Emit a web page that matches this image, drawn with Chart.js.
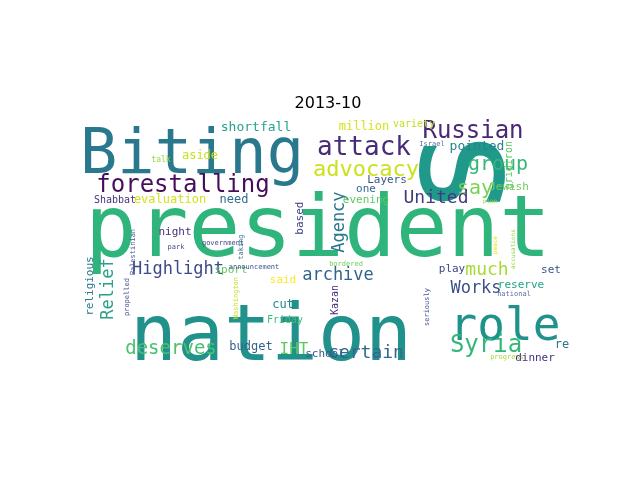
<!DOCTYPE html>
<html>
<head>
<meta charset="utf-8">
<script src="https://cdn.jsdelivr.net/npm/chart.js@4"></script>
<style>body{margin:0;background:#fff}</style>
</head>
<body>
<canvas id="c" width="640" height="480"></canvas>
<script>
// word cloud: word, centre position in cloud units, font size, colour, vertical flag
const words = ['president','nation','Biting','s','role','forestalling','attack','Russian','advocacy','Syria',
  'group','say','United','Highlight','archive','Works','much','deserves','certain','Relief','Agency','IHT',
  'shortfall','pointed','million','variety','gridiron','Jewish','aside','talk','Israel','Shabbat','evaluation',
  'need','Layers','one','evening','plan','based','night','park','government','Palestinian','taking','sport',
  'announcement','said','play','set','bordered','peace','accusations','religious','propelled','Washington',
  'cut','Friday','Kazan','seriously','reserve','national','budget','school','re','progress','dinner'];
const xs = [318,271,192,464,505,183,364,473,366,486,498,475,436,178,338,476,487,171,366,109,340,294,
  256,477,364,414,509,509,200,161,432,115,170,234,387,366,366,490,300,175,176,223,133,241,231,
  254,283,452,551,346,495,513,90,127,236,283,285,335,427,521,514,251,325,562,507,535];
const ys = [234,340,157,172,328,186,148,132,170,346,165,189,198,270,276,289,270,349,353,289,222,350,
  127,146,127,124,165,187,156,160,144,200,200,200,180,189,200,201,218,232,247,243,252,247,270,
  267,280,269,270,264,245,249,286,297,298,305,320,300,307,285,294,347,354,345,357,358];
const sizes = [86,78,62,150,46,24,26,24,22,24,20,20,18,17,17,17,18,19,18,17,17,16,
  13,13,12,10,10,11,12,8,7,10,12,12,11,11,11,6,11,11,7,7,7,7,11,
  7,11,11,11,7,6,6,11,7,7,12,10,10,7,11,7,12,11,12,7,11];
const colors = ['#2fb47c','#21918c','#2a788e','#1f9a8a','#20928c','#450d5a','#472c7a','#482878','#cde11d','#35b779',
  '#35b779','#7ad151','#443983','#3e4a89','#33638d','#3b528b','#a5db36','#4ac16d','#31688e','#2ba08a','#2a788e','#5ec962',
  '#25a18e','#26828e','#d8e219','#c2df23','#5ec962','#6ece58','#c8e020','#93d741','#5c6fa0','#46327e','#d2e21b',
  '#2e6e8e','#3b528b','#31688e','#5ec962','#a0da39','#404387','#46307e','#3e4989','#3f4788','#3b528b','#2f6c8e','#5ec962',
  '#3a548c','#fde725','#3f4788','#3b528b','#6ccd5a','#e2e418','#8fd744','#2a788e','#3f4a8a','#c2df23',
  '#25838e','#40bd72','#472d7b','#3b528b','#20a386','#5c6fa0','#33638d','#38598c','#2a788e','#9fda3a','#46307e'];
const vertical = ['s','Relief','Agency','gridiron','based','Palestinian','taking','peace','accusations',
  'religious','propelled','Washington','Kazan','seriously'];

const wordText = {
  id: 'wordText',
  afterDatasetsDraw(chart) {
    const ctx = chart.ctx;
    const meta = chart.getDatasetMeta(0);
    ctx.save();
    ctx.textAlign = 'center';
    ctx.textBaseline = 'middle';
    meta.data.forEach((pt, i) => {
      ctx.save();
      ctx.translate(pt.x, pt.y);
      if (vertical.includes(words[i])) ctx.rotate(-Math.PI / 2);
      ctx.font = sizes[i] + 'px "DejaVu Sans Mono"';
      ctx.fillStyle = colors[i];
      ctx.fillText(words[i], 0, 0);
      ctx.restore();
    });
    ctx.restore();
  }
};

new Chart(document.getElementById('c'), {
  type: 'scatter',
  data: { datasets: [{ data: words.map((w, i) => ({ x: xs[i], y: ys[i] })), pointRadius: 0 }] },
  options: {
    responsive: false,
    devicePixelRatio: 1,
    animation: false,
    layout: { padding: { left: 80, right: 64, top: 94, bottom: 116 } },
    plugins: {
      legend: { display: false },
      tooltip: { enabled: false },
      title: {
        display: true, text: '2013-10', color: '#000',
        font: { family: 'DejaVu Sans', size: 16, weight: 'normal' },
        padding: { top: 0, bottom: 3 }
      }
    },
    scales: {
      x: { display: false, min: 80, max: 576 },
      y: { display: false, min: 116, max: 364, reverse: true }
    }
  },
  plugins: [wordText]
});
</script>
</body>
</html>
